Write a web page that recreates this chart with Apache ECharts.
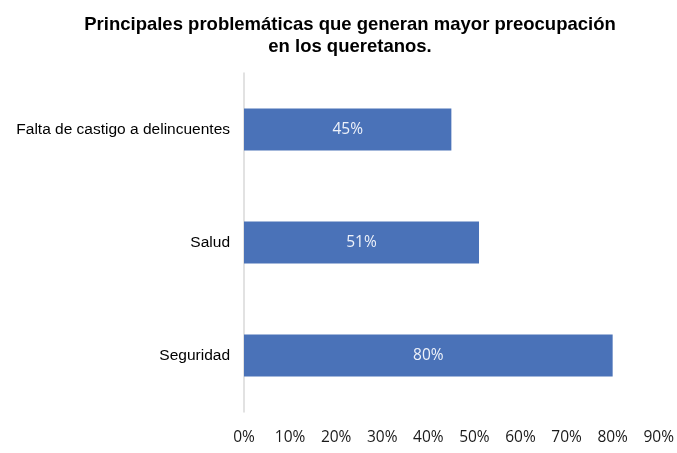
<!DOCTYPE html>
<html>
<head>
<meta charset="utf-8">
<script src="https://cdn.jsdelivr.net/npm/echarts@6/dist/echarts.min.js"></script>
<style>
  html, body { margin: 0; padding: 0; background: #fff; }
  #chart { width: 677px; height: 453px; }
</style>
</head>
<body>
<div id="chart"></div>
<script>
// categories top to bottom
const categories = ["Falta de castigo a delincuentes", "Salud", "Seguridad"];
const values = [45, 51, 80];
const ticks = [0, 10, 20, 30, 40, 50, 60, 70, 80, 90];

const myChart = echarts.init(document.getElementById("chart"));
const option = {
  backgroundColor: "#ffffff",
  title: {
    text: "Principales problemáticas que generan mayor preocupación\nen los queretanos.",
    left: 350,
    top: 14,
    padding: 0,
    textAlign: "center",
    textStyle: {
      fontFamily: "Liberation Sans, Arial",
      fontSize: 18.5,
      fontWeight: "bold",
      color: "#000",
      lineHeight: 22,
    },
  },
  grid: {
    left: 244,
    right: 18,
    top: 73,
    bottom: 41,
    containLabel: false,
  },
  xAxis: {
    type: "value",
    min: ticks[0],
    max: ticks[ticks.length - 1],
    interval: 10,
    axisLine: { show: false },
    axisTick: { show: false },
    splitLine: { show: false },
    axisLabel: {
      formatter: "{value}%",
      margin: 18,
      fontFamily: "Open Sans, Lato, sans-serif",
      fontSize: 15.5,
      color: "#1a1a1a",
    },
  },
  yAxis: {
    type: "category",
    data: categories,
    inverse: true,
    axisLine: { show: true, lineStyle: { color: "#d9d9d9", width: 1.5 } },
    axisTick: { show: false },
    axisLabel: {
      margin: 14,
      fontFamily: "Liberation Sans, Arial",
      fontSize: 15.5,
      color: "#000",
    },
  },
  series: [
    {
      type: "bar",
      data: values,
      barWidth: 42,
      itemStyle: { color: "#4a72b8" },
      label: {
        show: true,
        position: "inside",
        formatter: "{c}%",
        fontFamily: "Open Sans, Lato, sans-serif",
        fontSize: 15.5,
        color: "#eef2fa",
      },
    },
  ],
};
myChart.setOption(option);
</script>
</body>
</html>
